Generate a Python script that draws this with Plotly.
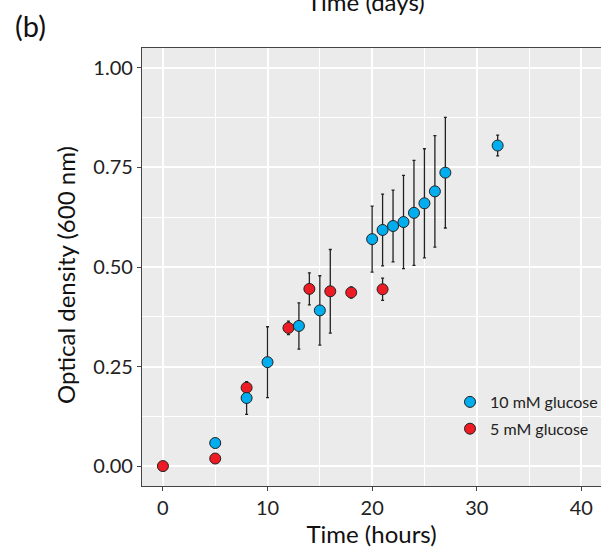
import plotly.graph_objects as go

# 10 mM glucose
hours_10 = [5, 8, 10, 13, 15, 20, 21, 22, 23, 24, 25, 26, 27, 32]
od_10 = [0.058, 0.171, 0.261, 0.352, 0.391, 0.570, 0.593, 0.603, 0.613, 0.636, 0.660, 0.690, 0.737, 0.805]
err_10 = [None, 0.041, 0.089, 0.058, 0.087, 0.083, 0.090, 0.090, 0.117, 0.132, 0.137, 0.140, 0.139, 0.026]

# 5 mM glucose
hours_5 = [0, 5, 8, 12, 14, 16, 18, 21]
od_5 = [0.0, 0.019, 0.197, 0.347, 0.445, 0.439, 0.436, 0.444]
err_5 = [None, None, 0.014, 0.017, 0.040, 0.105, 0.014, 0.028]

x_ticks = [0, 10, 20, 30, 40]
y_ticks = [0, 0.25, 0.5, 0.75, 1.0]
y_tick_labels = ["0.00", "0.25", "0.50", "0.75", "1.00"]

BLUE = "#00AEEF"
RED = "#ED1C24"
FONT = "Lato"

W, H = 601, 548
ML, MR, MT, MB = 142, 0, 48, 62
plot_w = W - ML - MR
plot_h = H - MT - MB


def px_x(px):
    return (px - ML) / plot_w


def px_y(py):
    return (H - MB - py) / plot_h


fig = go.Figure()

# error bars first (beneath all points)
for xs, ys, es in [(hours_5, od_5, err_5), (hours_10, od_10, err_10)]:
    fig.add_trace(go.Scatter(
        x=xs, y=ys, mode="markers",
        marker=dict(size=1, opacity=0),
        error_y=dict(type="data", array=es, symmetric=True,
                     color="#222222", thickness=1.3, width=1.5),
        showlegend=False, hoverinfo="skip"))

fig.add_trace(go.Scatter(
    x=hours_5, y=od_5, mode="markers", name="5 mM glucose",
    marker=dict(size=11, color=RED, line=dict(color="#222222", width=1)),
    legendrank=2, legendgroup="b"))
fig.add_trace(go.Scatter(
    x=hours_10, y=od_10, mode="markers", name="10 mM glucose",
    marker=dict(size=11, color=BLUE, line=dict(color="#222222", width=1)),
    legendrank=1, legendgroup="a"))

fig.update_layout(
    width=W, height=H,
    margin=dict(l=ML, r=MR, t=MT, b=MB, autoexpand=False),
    paper_bgcolor="white", plot_bgcolor="#EBEBEB",
    font=dict(family=FONT, color="#222222"),
    showlegend=True,
    legend=dict(x=px_x(450), y=px_y(385), xanchor="left", yanchor="top",
                bgcolor="rgba(0,0,0,0)", font=dict(size=16, family=FONT, color="#222222"),
                itemwidth=30, tracegroupgap=3, traceorder="grouped"),
    xaxis=dict(range=[-2, 41.88], tickvals=x_ticks, ticktext=[str(v) for v in x_ticks],
               showgrid=True, gridcolor="white", gridwidth=1.6,
               minor=dict(dtick=5, tick0=0, showgrid=True, gridcolor="white", gridwidth=0.8),
               zeroline=False, showline=True, linecolor="#444444", linewidth=1.2, mirror=True,
               ticks="outside", ticklen=4, tickcolor="#444444",
               tickfont=dict(size=20, color="#222222"),
               title=dict(text="Time (hours)", font=dict(size=24, color="#111111"), standoff=2)),
    yaxis=dict(range=[-0.05, 1.05], tickvals=y_ticks, ticktext=y_tick_labels,
               showgrid=True, gridcolor="white", gridwidth=1.6,
               minor=dict(dtick=0.125, tick0=0, showgrid=True, gridcolor="white", gridwidth=0.8),
               zeroline=False, showline=True, linecolor="#444444", linewidth=1.2,
               ticks="outside", ticklen=4, tickcolor="#444444",
               tickfont=dict(size=20, color="#222222")),
    annotations=[
        dict(text="Optical density (600 nm)", x=px_x(65), y=px_y(275), xref="paper", yref="paper",
             showarrow=False, textangle=-90, xanchor="center", yanchor="middle",
             font=dict(size=24, color="#111111")),
        dict(text="(b)", x=px_x(30), y=px_y(25), xref="paper", yref="paper", showarrow=False,
             xanchor="center", yanchor="middle", font=dict(size=29, color="#111111")),
        dict(text="Time (days)", x=px_x(366), y=px_y(1), xref="paper", yref="paper", showarrow=False,
             xanchor="center", yanchor="middle", font=dict(size=24, color="#111111")),
    ],
)

fig.write_html("out.html")
